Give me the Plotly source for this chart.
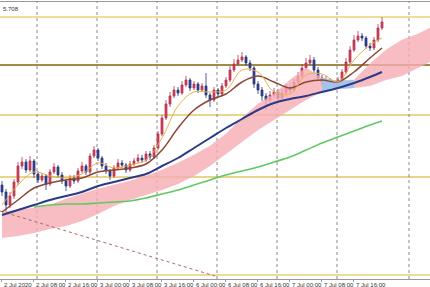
import plotly.graph_objects as go

# ---------------- data ----------------
bars = list(range(96))
opens = [104.08,104.01,103.88,103.97,104.11,104.27,104.31,104.23,104.32,104.19,
         104.13,104.17,104.09,104.21,104.26,104.18,104.12,104.07,104.15,104.12,
         104.22,104.27,104.21,104.37,104.43,104.35,104.27,104.22,104.17,104.25,
         104.30,104.28,104.23,104.29,104.32,104.35,104.33,104.39,104.36,104.45,
         104.59,104.75,104.89,104.97,105.03,105.00,105.08,105.13,105.05,105.09,
         105.03,105.07,104.98,104.93,105.03,104.99,105.07,105.13,105.23,105.29,
         105.33,105.36,105.30,105.25,105.09,105.03,104.97,104.93,104.98,105.01,
         104.95,105.00,105.05,105.03,105.11,105.17,105.25,105.30,105.33,105.23,
         105.15,105.11,105.13,105.09,105.07,105.13,105.21,105.31,105.43,105.53,
         105.57,105.55,105.47,105.45,105.53,105.65]
closes = [104.01,103.88,103.97,104.11,104.27,104.31,104.23,104.32,104.19,104.13,
          104.17,104.09,104.21,104.26,104.18,104.12,104.07,104.15,104.12,104.22,
          104.27,104.21,104.37,104.43,104.35,104.27,104.22,104.17,104.25,104.30,
          104.28,104.23,104.29,104.32,104.35,104.33,104.39,104.36,104.45,104.59,
          104.75,104.89,104.97,105.03,105.00,105.08,105.13,105.05,105.09,105.03,
          105.07,104.98,104.93,105.03,104.99,105.07,105.13,105.23,105.29,105.33,
          105.36,105.30,105.25,105.09,105.03,104.97,104.93,104.98,105.01,104.95,
          105.00,105.05,105.03,105.11,105.17,105.25,105.30,105.33,105.23,105.15,
          105.11,105.13,105.09,105.07,105.13,105.21,105.31,105.43,105.53,105.57,
          105.55,105.47,105.45,105.53,105.65,105.71]
highs = [104.12,104.04,104.01,104.14,104.31,104.36,104.34,104.37,104.34,104.22,
         104.20,104.19,104.24,104.30,104.28,104.21,104.14,104.18,104.18,104.25,
         104.31,104.29,104.40,104.47,104.45,104.37,104.30,104.24,104.28,104.34,
         104.33,104.30,104.32,104.35,104.39,104.38,104.42,104.42,104.48,104.62,
         104.78,104.93,105.01,105.07,105.06,105.12,105.17,105.15,105.12,105.11,
         105.10,105.20,105.00,105.06,105.05,105.10,105.16,105.27,105.34,105.38,
         105.41,105.38,105.33,105.27,105.12,105.06,105.00,105.02,105.05,105.04,
         105.04,105.09,105.08,105.14,105.21,105.29,105.35,105.38,105.36,105.26,
         105.18,105.17,105.15,105.11,105.16,105.24,105.35,105.47,105.58,105.62,
         105.60,105.57,105.50,105.56,105.69,105.76]
lows = [103.97,103.81,103.85,103.94,104.08,104.24,104.20,104.21,104.15,104.10,
        104.11,104.03,104.07,104.19,104.15,104.09,104.02,104.05,104.09,104.10,
        104.20,104.18,104.19,104.35,104.32,104.24,104.19,104.13,104.15,104.23,
        104.25,104.20,104.21,104.27,104.30,104.30,104.31,104.33,104.34,104.43,
        104.57,104.73,104.86,104.95,104.97,104.98,105.06,105.02,105.03,105.00,
        105.01,104.95,104.86,104.91,104.96,104.97,105.05,105.11,105.21,105.27,
        105.31,105.27,105.22,105.05,104.99,104.92,104.83,104.90,104.95,104.91,
        104.93,104.98,105.00,105.01,105.09,105.15,105.23,105.28,105.20,105.12,
        105.08,105.08,105.05,105.03,105.05,105.11,105.19,105.29,105.41,105.51,
        105.52,105.44,105.42,105.43,105.51,105.63]

ma_bars = [0,4,8,12,16,20,24,28,32,36,40,44,48,52,56,60,64,68,72,76,80,84,88,92,95]
ma_fast = [103.88,104.08,104.21,104.17,104.15,104.19,104.30,104.25,104.28,104.33,
           104.55,104.87,105.01,105.01,105.03,105.23,105.21,105.01,104.99,105.18,
           105.19,105.11,105.33,105.48,105.55]
ma_mid = [103.81,103.93,104.05,104.10,104.13,104.15,104.21,104.23,104.25,104.29,
          104.43,104.65,104.83,104.93,104.99,105.11,105.17,105.11,105.05,105.11,
          105.13,105.11,105.21,105.35,105.45]
ma_slow = [103.78,103.83,103.88,103.93,103.97,104.01,104.07,104.11,104.15,104.19,
           104.27,104.35,104.45,104.55,104.65,104.74,104.83,104.90,104.94,104.97,
           105.01,105.05,105.10,105.16,105.21]
ma_long_bars = [8,12,16,20,24,28,32,36,40,44,48,52,56,60,64,68,72,76,80,84,88,92,95]
ma_long = [103.86,103.88,103.89,103.89,103.90,103.91,103.92,103.95,103.99,104.03,
           104.08,104.13,104.18,104.22,104.26,104.31,104.36,104.43,104.50,104.56,
           104.62,104.68,104.72]

cloud_bars = [0,4,8,12,16,20,24,28,32,36,40,44,48,52,56,60,64,68,72,76,80,84,88,92,96,100,104,107]
span_top = [103.81,103.83,103.85,103.88,103.94,103.99,104.04,104.08,104.12,104.17,
            104.23,104.30,104.38,104.47,104.59,104.75,104.89,104.99,105.13,105.25,
            105.15,105.12,105.13,105.29,105.43,105.53,105.59,105.65]
span_bot = [103.55,103.57,103.60,103.64,103.67,103.72,103.79,103.87,103.93,103.98,
            104.03,104.09,104.17,104.27,104.39,104.51,104.63,104.73,104.83,104.93,
            105.01,105.04,105.05,105.07,105.13,105.17,105.25,105.31]
blue_from, blue_to = 80, 88

levels = [105.76, 105.28, 104.78, 104.16, 103.18]
level_colors = ["#e8d27a", "#a08c48", "#e2ca62", "#e2c662", "#e6d272"]
level_widths = [1.5, 2, 1.5, 1.5, 1.5]

trend_x = [-0.5, 53.25]
trend_y = [103.82, 103.17]

grid_bars = [8.75, 23.75, 38.75, 53.75, 68.75, 83.75, 101.75]

tick_bars = [-0.25, 7.75, 15.75, 23.75, 31.75, 39.75, 47.75, 55.75, 63.75, 71.75, 79.75, 87.75]
tick_labels = ["2 Jul 2020", "2 Jul 08:00", "2 Jul 16:00", "3 Jul 00:00", "3 Jul 08:00",
               "3 Jul 16:00", "6 Jul 00:00", "6 Jul 08:00", "6 Jul 16:00", "7 Jul 00:00",
               "7 Jul 08:00", "7 Jul 16:00"]
header = "5.708"

# ---------------- figure ----------------
fig = go.Figure()

# cloud (pink)
fig.add_trace(go.Scatter(x=cloud_bars, y=span_bot, mode="lines", line=dict(width=0, color="#f3a9b0"),
                         hoverinfo="skip", showlegend=False))
fig.add_trace(go.Scatter(x=cloud_bars, y=span_top, mode="lines", line=dict(width=0.5, color="#f5b4ba"),
                         fill="tonexty", fillcolor="rgba(245,172,180,0.8)", hoverinfo="skip", showlegend=False))
# cloud (blue part)
bx = [b for b in cloud_bars if blue_from <= b <= blue_to]
bt = [t for b, t in zip(cloud_bars, span_top) if blue_from <= b <= blue_to]
bb = [t for b, t in zip(cloud_bars, span_bot) if blue_from <= b <= blue_to]
fig.add_trace(go.Scatter(x=bx, y=bb, mode="lines", line=dict(width=0), hoverinfo="skip", showlegend=False))
fig.add_trace(go.Scatter(x=bx, y=bt, mode="lines", line=dict(width=0), fill="tonexty",
                         fillcolor="rgba(160,196,236,0.95)", hoverinfo="skip", showlegend=False))

# trend line
fig.add_trace(go.Scatter(x=trend_x, y=trend_y, mode="lines", line=dict(color="#a86a6a", width=1, dash="dot"),
                         hoverinfo="skip", showlegend=False))

# moving averages
fig.add_trace(go.Scatter(x=ma_long_bars, y=ma_long, mode="lines", line=dict(color="#62c862", width=1.6, shape="spline"),
                         showlegend=False))
fig.add_trace(go.Scatter(x=ma_bars, y=ma_slow, mode="lines", line=dict(color="#2b3a86", width=2, shape="spline"),
                         showlegend=False))
fig.add_trace(go.Scatter(x=ma_bars, y=ma_mid, mode="lines", line=dict(color="#8c4636", width=1.5, shape="spline"),
                         showlegend=False))
fig.add_trace(go.Scatter(x=ma_bars, y=ma_fast, mode="lines", line=dict(color="#eab04a", width=1, shape="spline"),
                         showlegend=False))

# candles
fig.add_trace(go.Candlestick(x=bars, open=opens, high=highs, low=lows, close=closes,
                             increasing=dict(line=dict(color="#b8334f", width=0.8), fillcolor="#c84560"),
                             decreasing=dict(line=dict(color="#2a3580", width=0.8), fillcolor="#34409a"),
                             whiskerwidth=0, showlegend=False))

shapes = []
for lv, c, w in zip(levels, level_colors, level_widths):
    shapes.append(dict(type="line", xref="paper", x0=0, x1=1, yref="y", y0=lv, y1=lv,
                       line=dict(color=c, width=w), layer="below"))
for g in grid_bars:
    shapes.append(dict(type="line", xref="x", x0=g, x1=g, yref="paper", y0=0, y1=1,
                       line=dict(color="#8a8a8a", width=1, dash="dot"), layer="below"))

annotations = []
for tb, tl in zip(tick_bars, tick_labels):
    annotations.append(dict(x=tb, y=0, xref="x", yref="paper", text=tl, showarrow=False,
                            xanchor="left", yanchor="top", yshift=-1, xshift=1,
                            font=dict(size=6, color="#333333", family="Liberation Sans")))
annotations.append(dict(x=0, y=1, xref="paper", yref="paper", text=header, showarrow=False,
                        xanchor="left", yanchor="top", yshift=-2, xshift=1,
                        font=dict(size=6, color="#333333", family="Liberation Sans")))

fig.update_layout(
    width=430, height=287,
    margin=dict(l=0, r=0, t=2, b=8),
    paper_bgcolor="white", plot_bgcolor="white",
    shapes=shapes, annotations=annotations,
    xaxis=dict(range=[-0.5, 107], showgrid=False, zeroline=False, rangeslider=dict(visible=False),
               showticklabels=False, showline=True, linecolor="#999999", linewidth=1, mirror=True,
               ticks="outside", ticklen=2, tickcolor="#999999", tickvals=tick_bars),
    yaxis=dict(range=[103.14, 105.91], showgrid=False, zeroline=False, showticklabels=False,
               showline=False),
)

fig.write_html("out.html")
